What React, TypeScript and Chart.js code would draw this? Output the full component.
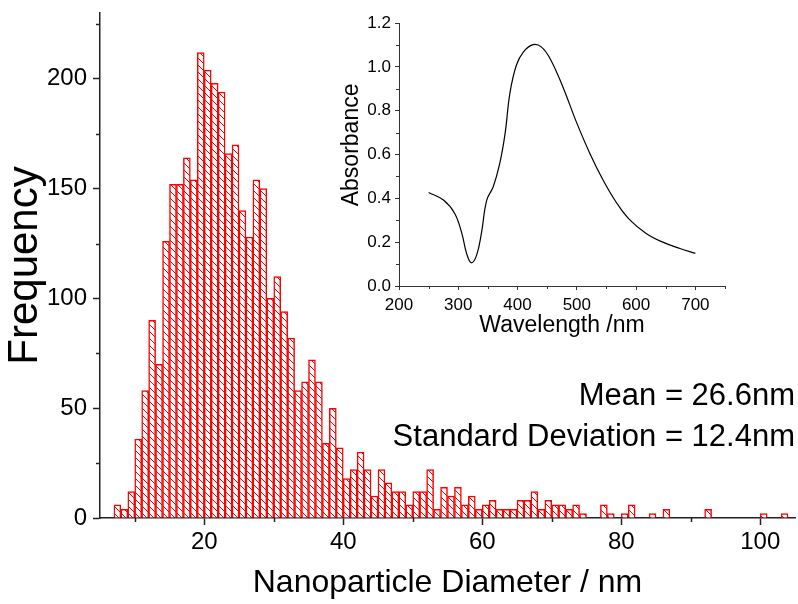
import React, { useEffect, useRef } from 'react';
import { Chart, registerables } from 'chart.js';

Chart.register(...registerables);

// ---------- Histogram data (1 nm bins, left edges) ----------
const binStarts = [
  7, 8, 9, 10, 11, 12, 13, 14, 15, 16, 17, 18, 19, 20, 21, 22, 23, 24, 25, 26,
  27, 28, 29, 30, 31, 32, 33, 34, 35, 36, 37, 38, 39, 40, 41, 42, 43, 44, 45, 46,
  47, 48, 49, 50, 51, 52, 53, 54, 55, 56, 57, 58, 59, 60, 61, 62, 63, 64, 65, 66,
  67, 68, 69, 70, 71, 72, 73, 74, 77, 78, 80, 81, 84, 86, 92, 100, 103,
];
const frequencies = [
  6, 4, 12, 36, 58, 90, 70, 126, 152, 152, 164, 154, 212, 204, 198, 194, 166, 170, 140, 128,
  154, 150, 100, 110, 94, 82, 58, 62, 72, 62, 34, 50, 32, 18, 22, 30, 22, 10, 22, 16,
  12, 12, 6, 12, 12, 22, 4, 14, 10, 14, 6, 10, 4, 6, 8, 4, 4, 4, 8, 8,
  12, 4, 8, 6, 6, 4, 6, 2, 6, 2, 2, 6, 2, 4, 4, 2, 2,
];
const binWidth = 1;

const xMajorTicks = [20, 40, 60, 80, 100];
const xMinorTicks = [10, 30, 50, 70, 90];
const yMajorTicks = [0, 50, 100, 150, 200];
const yMinorTicks = [25, 75, 125, 175, 225];

// ---------- Inset: absorbance spectrum ----------
const wavelengths = [
  250, 275, 294, 306, 314, 322, 331, 339, 348, 359, 370, 379, 387, 398, 410,
  426, 440, 455, 477, 499, 522, 544, 567, 589, 617, 645, 674, 700,
];
const absorbance = [
  0.427, 0.392, 0.331, 0.24, 0.149, 0.106, 0.141, 0.24, 0.392, 0.453, 0.559, 0.696, 0.878, 1.007, 1.068,
  1.101, 1.091, 1.037, 0.905, 0.75, 0.605, 0.485, 0.38, 0.303, 0.24, 0.2, 0.171, 0.149,
];
const insetXMajor = [200, 300, 400, 500, 600, 700];
const insetXMinor = [250, 350, 450, 550, 650, 750];
const insetYMajor = [0, 0.2, 0.4, 0.6, 0.8, 1.0, 1.2];
const insetYMinor = [0.1, 0.3, 0.5, 0.7, 0.9, 1.1];

const statLines = ['Mean = 26.6nm', 'Standard Deviation = 12.4nm'];

const FONT = '"Liberation Sans", Arial, sans-serif';

function makeHatch(color: string): CanvasPattern | string {
  const s = 7;
  const c = document.createElement('canvas');
  c.width = s;
  c.height = s;
  const g = c.getContext('2d');
  if (!g) return '#fff';
  g.fillStyle = '#ffffff';
  g.fillRect(0, 0, s, s);
  g.strokeStyle = color;
  g.lineWidth = 1;
  g.beginPath();
  g.moveTo(0, 0);
  g.lineTo(s, s);
  g.moveTo(-1, s - 1);
  g.lineTo(1, s + 1);
  g.moveTo(s - 1, -1);
  g.lineTo(s + 1, 1);
  g.stroke();
  return g.createPattern(c, 'repeat') || '#fff';
}

function minorTicksPlugin(id: string, xs: number[], ys: number[], len: number, color: string, width: number) {
  return {
    id,
    afterDraw(chart: any) {
      const { ctx } = chart;
      const sx = chart.scales.x;
      const sy = chart.scales.y;
      ctx.save();
      ctx.strokeStyle = color;
      ctx.lineWidth = width;
      for (const v of xs) {
        const px = Math.round(sx.getPixelForValue(v)) + 0.5;
        ctx.beginPath();
        ctx.moveTo(px, sx.top);
        ctx.lineTo(px, sx.top + len);
        ctx.stroke();
      }
      for (const v of ys) {
        const py = Math.round(sy.getPixelForValue(v)) + 0.5;
        ctx.beginPath();
        ctx.moveTo(sy.right, py);
        ctx.lineTo(sy.right - len, py);
        ctx.stroke();
      }
      ctx.restore();
    },
  };
}

const statsPlugin = {
  id: 'stats',
  afterDraw(chart: any) {
    const { ctx, chartArea } = chart;
    ctx.save();
    ctx.fillStyle = '#000';
    ctx.font = `31px ${FONT}`;
    ctx.textAlign = 'right';
    ctx.textBaseline = 'alphabetic';
    const sy = chart.scales.y;
    const y1 = sy.getPixelForValue(51.5);
    const y2 = sy.getPixelForValue(33);
    ctx.fillText(statLines[0], chartArea.right, y1);
    ctx.fillText(statLines[1], chartArea.right, y2);
    ctx.restore();
  },
};

export default function App() {
  const mainRef = useRef<HTMLCanvasElement | null>(null);
  const insetRef = useRef<HTMLCanvasElement | null>(null);

  useEffect(() => {
    Chart.defaults.font.family = FONT;
    Chart.defaults.color = '#000';
    const hatch = makeHatch('#ff0000');
    const axisColor = '#222';

    const main = new Chart(mainRef.current as HTMLCanvasElement, {
      type: 'bar',
      data: {
        datasets: [
          {
            data: binStarts.map((b, i) => ({ x: b + binWidth / 2, y: frequencies[i] })),
            backgroundColor: hatch as any,
            borderColor: '#ff0000',
            borderWidth: 1.5,
            borderSkipped: 'start',
            barPercentage: 1,
            categoryPercentage: 1,
          },
        ],
      },
      options: {
        animation: false,
        responsive: false,
        layout: { padding: { top: 13, right: 3, left: 0, bottom: 0 } },
        plugins: { legend: { display: false }, tooltip: { enabled: false } },
        scales: {
          x: {
            type: 'linear',
            min: 5,
            max: 105,
            offset: false,
            grid: { drawOnChartArea: false, drawTicks: true, tickLength: 7, tickColor: axisColor, tickWidth: 1.5, offset: false },
            border: { display: true, color: axisColor, width: 1.5 },
            ticks: { font: { size: 24 }, color: '#000', padding: 3, maxRotation: 0, autoSkip: false },
            afterBuildTicks: (s: any) => {
              s.ticks = xMajorTicks.map((v) => ({ value: v }));
            },
            afterFit: (s: any) => {
              s.height = 86;
              s.paddingLeft = 0;
              s.paddingRight = 0;
            },
            title: {
              display: true,
              text: 'Nanoparticle Diameter / nm',
              font: { size: 32 },
              color: '#000',
              padding: { top: 0, bottom: 2 },
            },
          },
          y: {
            type: 'linear',
            min: 0,
            max: 230,
            grid: { drawOnChartArea: false, drawTicks: true, tickLength: 7, tickColor: axisColor, tickWidth: 1.5 },
            border: { display: true, color: axisColor, width: 1.5 },
            ticks: { font: { size: 24 }, color: '#000', padding: 6, includeBounds: false },
            afterBuildTicks: (s: any) => {
              s.ticks = yMajorTicks.map((v) => ({ value: v }));
            },
            afterFit: (s: any) => {
              s.width = 100;
              s.paddingTop = 0;
              s.paddingBottom = 0;
            },
            title: {
              display: true,
              text: 'Frequency',
              font: { size: 42 },
              color: '#000',
              padding: { top: 0, bottom: 0 },
            },
          },
        },
      },
      plugins: [minorTicksPlugin('mainMinor', xMinorTicks, yMinorTicks, 4, axisColor, 1.5), statsPlugin],
    } as any);

    const inset = new Chart(insetRef.current as HTMLCanvasElement, {
      type: 'line',
      data: {
        datasets: [
          {
            data: wavelengths.map((w, i) => ({ x: w, y: absorbance[i] })),
            borderColor: '#000',
            borderWidth: 1.2,
            pointRadius: 0,
            fill: false,
            tension: 0.4,
          },
        ],
      },
      options: {
        animation: false,
        responsive: false,
        layout: { padding: { top: 23, right: 15, left: 0, bottom: 0 } },
        plugins: { legend: { display: false }, tooltip: { enabled: false } },
        scales: {
          x: {
            type: 'linear',
            min: 200,
            max: 750,
            grid: { drawOnChartArea: false, drawTicks: true, tickLength: 4, tickColor: '#333', tickWidth: 1 },
            border: { display: true, color: '#333', width: 1 },
            ticks: { font: { size: 17 }, color: '#000', padding: 5, maxRotation: 0, autoSkip: false },
            afterBuildTicks: (s: any) => {
              s.ticks = insetXMajor.map((v) => ({ value: v }));
            },
            afterFit: (s: any) => {
              s.height = 59;
              s.paddingLeft = 0;
              s.paddingRight = 0;
            },
            title: {
              display: true,
              text: 'Wavelength /nm',
              font: { size: 23 },
              color: '#000',
              padding: { top: 0, bottom: 6 },
            },
          },
          y: {
            type: 'linear',
            min: 0,
            max: 1.2,
            grid: { drawOnChartArea: false, drawTicks: true, tickLength: 4, tickColor: '#333', tickWidth: 1 },
            border: { display: true, color: '#333', width: 1 },
            ticks: {
              font: { size: 17 },
              color: '#000',
              padding: 4,
              callback: (v: any) => Number(v).toFixed(1),
            },
            afterBuildTicks: (s: any) => {
              s.ticks = insetYMajor.map((v) => ({ value: v }));
            },
            afterFit: (s: any) => {
              s.width = 69;
              s.paddingTop = 0;
              s.paddingBottom = 0;
            },
            title: {
              display: true,
              text: '   Absorbance',
              font: { size: 23 },
              color: '#000',
              padding: { top: 8, bottom: 0 },
            },
          },
        },
      },
      plugins: [minorTicksPlugin('insetMinor', insetXMinor, insetYMinor, 3, '#333', 1)],
    } as any);

    return () => {
      main.destroy();
      inset.destroy();
    };
  }, []);

  return (
    <div style={{ position: 'absolute', left: 0, top: 0, width: 798, height: 604, background: '#fff' }}>
      <canvas ref={mainRef} width={798} height={604} style={{ position: 'absolute', left: 0, top: 0 }} />
      <canvas ref={insetRef} width={410} height={345} style={{ position: 'absolute', left: 330, top: 0 }} />
    </div>
  );
}
